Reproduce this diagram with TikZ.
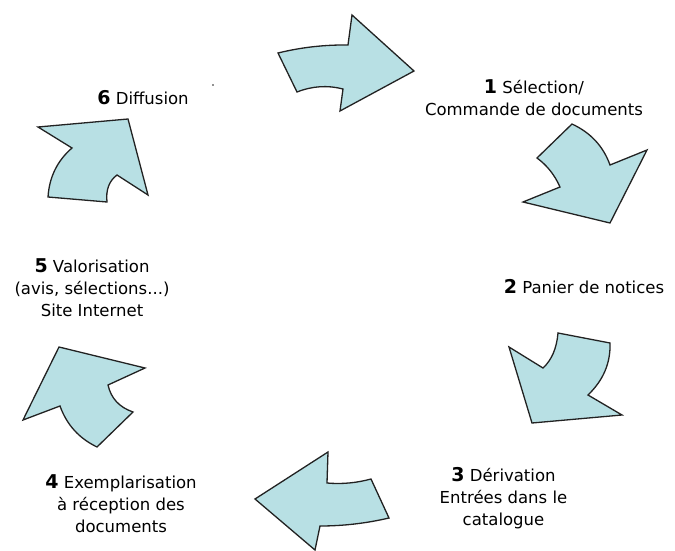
\documentclass[tikz,border=0pt]{standalone}
\usepackage{fontspec}
\setmainfont{DejaVu Sans}
\definecolor{arrowfill}{HTML}{B8E0E4}
\definecolor{arrowline}{HTML}{222222}
\newcommand{\stepnum}[1]{{\bfseries\fontsize{19}{22}\selectfont #1}}
\tikzset{
  cyclearrow/.style={fill=arrowfill, draw=arrowline, line width=1.3pt, line join=miter},
  steplabel/.style={align=center, inner sep=0pt, font=\fontsize{16.5}{22}\selectfont}
}
\begin{document}
\begin{tikzpicture}[x=1pt,y=-1pt]
\useasboundingbox (0,0) rectangle (675,551);
% arrow 1 (top, pointing right)
\path[cyclearrow] (278,53) .. controls (301.3,47.3) and (324.7,44.7) .. (348,45) -- (352,15) -- (414,71) -- (340,111) -- (343,89) .. controls (327.7,85) and (312.3,86) .. (297,92) -- cycle;
% arrow 2 (upper right, pointing down-right)
\path[cyclearrow] (572,124) .. controls (590.7,132.7) and (603.3,146.3) .. (610,165) -- (647,150) -- (610,223) -- (523,202) -- (560,187) .. controls (554.7,175) and (547,165.3) .. (537,158) -- cycle;
% arrow 3 (lower right, pointing down-left)
\path[cyclearrow] (558,333) -- (610,343) .. controls (610.7,363) and (603.3,380.3) .. (588,395) -- (622,415) -- (532,423) -- (509,347) -- (543,368) .. controls (551.7,360) and (556.7,348.3) .. cycle;
% arrow 4 (bottom, pointing left)
\path[cyclearrow] (328,452) -- (255,499) -- (315,550) -- (320,526) .. controls (343.3,526) and (366.3,523.3) .. (389,518) -- (371,479) .. controls (356.3,483) and (341.7,484.3) .. (327,483) -- cycle;
% arrow 5 (lower left, pointing up)
\path[cyclearrow] (59,347) -- (23,420) -- (60,406) .. controls (66.7,424.7) and (79,438.3) .. (97,447) -- (133,412) .. controls (119.3,407.3) and (111,398.3) .. (108,385) -- (145,368) -- cycle;
% arrow 6 (upper left, pointing up-right)
\path[cyclearrow] (38,127) -- (128,119) -- (148,195) -- (117,175) .. controls (109,181) and (105.7,190) .. (107,202) -- (48,197) .. controls (49.3,177) and (57.3,160.7) .. (72,148) -- cycle;
% labels
\node[steplabel] (l1) at (534,98) {\stepnum{1} Sélection/\\Commande de documents};
\node[steplabel] (l2) at (584,287) {\stepnum{2} Panier de notices};
\node[steplabel] (l3) at (503.5,498) {\stepnum{3} Dérivation\\Entrées dans le\\catalogue};
\node[steplabel] (l4) at (121,504) {\stepnum{4} Exemplarisation\\à réception des\\documents};
\node[steplabel] (l5) at (92,288) {\stepnum{5} Valorisation\\(avis, sélections...)\\Site Internet};
\node[steplabel] (l6) at (143,98) {\stepnum{6} Diffusion};
\fill[arrowline] (213,85) circle (0.8);
\end{tikzpicture}
\end{document}
